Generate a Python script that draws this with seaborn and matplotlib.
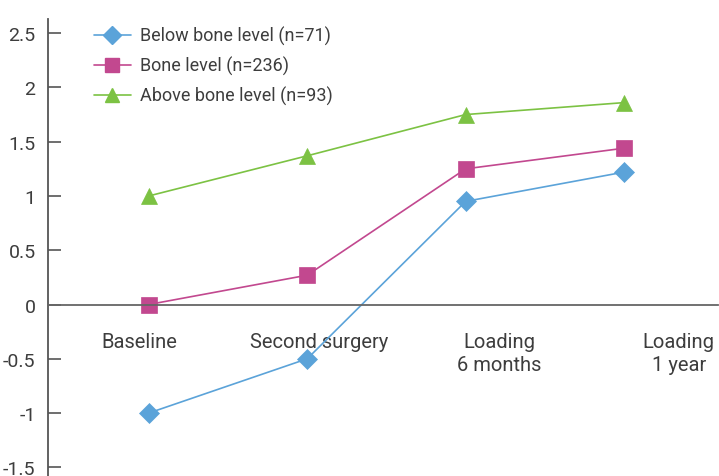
import numpy as np
import pandas as pd
import matplotlib
matplotlib.use("Agg")
import matplotlib.pyplot as plt
import seaborn as sns

# data
stages = ["Baseline", "Second surgery", "Loading\n6 months", "Loading\n1 year"]
below = [-1.0, -0.5, 0.95, 1.22]
bone = [0.0, 0.27, 1.25, 1.44]
above = [1.0, 1.37, 1.75, 1.86]
names = ["Below bone level (n=71)", "Bone level (n=236)", "Above bone level (n=93)"]

rows = []
for name, vals in zip(names, [below, bone, above]):
    for i, v in enumerate(vals):
        rows.append({"stage": i, "value": v, "group": name})
df = pd.DataFrame(rows)

sns.set_style("white")
plt.rcParams['font.family'] = ['Roboto', 'DejaVu Sans']
txt = "#3d3d3d"

fig = plt.figure(figsize=(7.19, 4.77), dpi=100)
ax = fig.add_axes([0.0668, 0.0, 0.9312, 0.958])

palette = {names[0]: "#5ba3d9", names[1]: "#c2488f", names[2]: "#7cc243"}
markers = {names[0]: "D", names[1]: "s", names[2]: "^"}
sizes_ms = {names[0]: 10, names[1]: 11, names[2]: 11}

sns.lineplot(data=df, x="stage", y="value", hue="group", style="group",
             palette=palette, markers=markers, dashes=False, linewidth=1.2,
             markersize=11, markeredgewidth=0.5, ax=ax, legend=False)
for line, n in zip(ax.lines, names):
    line.set_markersize(sizes_ms[n])
    line.set_markeredgecolor(palette[n])

ax.set_xlim(-0.636, 3.59)
ax.set_ylim(-1.58, 2.63)

# spines
for s in ["top", "right"]:
    ax.spines[s].set_visible(False)
ax.spines["bottom"].set_position(("data", 0))
ax.spines["bottom"].set_color("#666666")
ax.spines["left"].set_color("#555555")
ax.spines["bottom"].set_linewidth(1.3)
ax.spines["left"].set_linewidth(1.3)

ax.set_yticks([-1.5, -1, -0.5, 0, 0.5, 1, 1.5, 2, 2.5])
ax.set_yticklabels(["-1.5", "-1", "-0.5", "0", "0.5", "1", "1.5", "2", "2.5"])
ax.tick_params(axis="y", left=True, direction="in", length=9, width=1.2, color="#555555",
               labelsize=14, labelcolor=txt, pad=9)

label_pos = np.arange(len(stages)) * 1.135 - 0.06
ax.set_xticks(label_pos)
ax.set_xticklabels(stages, fontsize=14.5, color=txt, va="top", linespacing=1.25)
ax.tick_params(axis="x", bottom=False, length=0, pad=20)
ax.set_xlabel("")
ax.set_ylabel("")

handles = [plt.Line2D([], [], color=palette[n], marker=markers[n], markersize=sizes_ms[n] - 1,
                      markeredgecolor=palette[n], linewidth=1.2) for n in names]
leg = ax.legend(handles, names, loc="upper left", bbox_to_anchor=(0.045, 1.02),
                frameon=False, fontsize=13, handlelength=2.0, handletextpad=0.5,
                labelspacing=0.6, labelcolor=txt)

fig.savefig("out.png", dpi=100)
